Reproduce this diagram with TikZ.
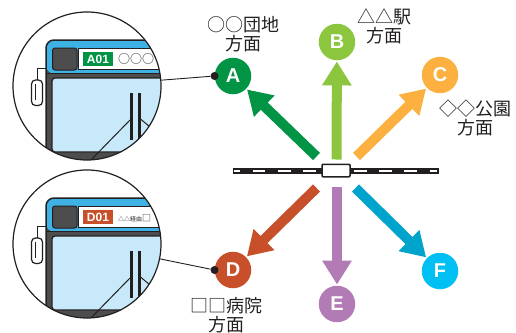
\documentclass[tikz,border=0pt]{standalone}
\usepackage{fontspec}
\usepackage{tikz}
\usetikzlibrary{arrows.meta, positioning, calc}
\newfontfamily\jpfont{Noto Sans CJK JP}
\newfontfamily\stopfont{Liberation Sans}
\definecolor{RouteA}{HTML}{009444}
\definecolor{RouteB}{HTML}{8CC63F}
\definecolor{RouteC}{HTML}{FBB040}
\definecolor{RouteD}{HTML}{C7502A}
\definecolor{RouteE}{HTML}{B27BB6}
\definecolor{RouteF}{HTML}{00BFF3}
\definecolor{RouteFArrow}{HTML}{00A3CC}
\definecolor{InkGray}{HTML}{231F20}
\definecolor{BodyGray}{HTML}{4D4D4D}
\definecolor{SignBlue}{HTML}{3FB2E5}
\definecolor{GlassBlue}{HTML}{C8E9F9}

\begin{document}
\begin{tikzpicture}[x=1pt, y=-1pt,
    stopmark/.style={circle, fill=#1, minimum size=36.5pt, inner sep=0pt,
                     text=white, font=\stopfont\bfseries\fontsize{20}{20}\selectfont},
    route/.style={#1, line width=10pt, -{Triangle[length=24pt, width=28pt]}, shorten >=1pt},
    dirlabel/.style={text=InkGray, align=center, inner sep=0pt,
                     font=\jpfont\fontsize{18}{19}\selectfont},
    lens/.style={circle, draw=InkGray, line width=1.2pt, minimum size=148pt, inner sep=0pt},
    dotmark/.style={circle, fill=InkGray, minimum size=8pt, inner sep=0pt},
    station/.style={draw=InkGray, fill=white, line width=1.5pt, minimum width=28pt,
                    minimum height=12.5pt, inner sep=0pt, rounded corners=1pt}]
    \useasboundingbox (0,0) rectangle (516,332);

    % Two close-ups of the bus front with its destination sign
    \foreach \dy/\code/\stopname/\dest in {0/A01/A/{\fontsize{12}{12}\selectfont ○○○},
        158/D01/D/{\fontsize{6}{6}\selectfont △△経由\fontsize{9}{9}\selectfont □}} {
        \begin{scope}[shift={(0,\dy)}]
            \begin{scope}
                \clip (87,86) circle (74);
                \fill[BodyGray, rounded corners=8pt] (46,180) -- (46,40) -- (180,40) -- (180,180) -- cycle;
                \fill[SignBlue, rounded corners=8pt] (46,73.5) -- (46,40) -- (180,40) -- (180,73.5) -- cycle;
                \draw[InkGray, line width=1.3pt] (46,73.5) -- (180,73.5);
                \draw[InkGray, fill=BodyGray, line width=1pt, rounded corners=2.5pt] (52.5,48) rectangle (77,70);
                \draw[InkGray, fill=white, line width=1pt] (78,48.5) rectangle (180,69);
                \node[fill=Route\stopname, text=white, minimum width=30pt, minimum height=14pt,
                      inner sep=0pt, font=\stopfont\bfseries\fontsize{12}{12}\selectfont]
                      (code\stopname) at (98,59) {\code};
                \node[anchor=base west, inner sep=0pt, text=InkGray, font=\jpfont]
                      (dest\stopname) at (118,63.5) {\dest};
                \draw[InkGray, fill=GlassBlue, line width=1.3pt, rounded corners=3pt]
                    (52,152) -- (52,78) -- (180,78) -- (180,152) -- cycle;
                \draw[InkGray, line width=1.5pt, rounded corners=8pt] (46,180) -- (46,40) -- (180,40) -- (180,180);
                % mirror
                \draw[InkGray, line width=1pt] (46,68.5) -- (37,68.5) -- (37,80);
                \draw[InkGray, fill=white, line width=1.2pt, rounded corners=4pt] (31.5,80) rectangle (42.5,105.5);
                \draw[InkGray, line width=0.8pt] (35,84) -- (35,100);
                % wipers
                \draw[InkGray, line width=3pt] (131.5,93) -- (131.5,140) (139,93) -- (139,140);
                \draw[InkGray, line width=1pt] (91,160) -- (130,120) (140.5,119) -- (150,127);
            \end{scope}
            \node[lens] (lens\stopname) at (87,86) {};
        \end{scope}
    }

    % Track and the bus stop
    \draw[InkGray, line width=6pt] (232.5,171) -- (438.5,171);
    \draw[white, line width=2.5pt, dash pattern=on 12.7pt off 12.6pt, dash phase=6.7pt] (234,171) -- (437,171);
    \node[station] (stn) at (336,170.5) {};

    % Route stops
    \foreach \name/\x/\y in {A/233/76, B/337/42, C/440/75, D/233/270, E/337/304, F/440/271}
        \node[stopmark=Route\name] (\name) at (\x,\y) {\name};

    % Arrows leaving the stop
    \coordinate (tA) at (316.5,156.5);
    \coordinate (tB) at (336.5,159.5);
    \coordinate (tC) at (356.5,156.5);
    \coordinate (tD) at (316.5,188);
    \coordinate (tE) at (337,187);
    \coordinate (tF) at (355.5,188);
    \foreach \name/\col in {A/RouteA, B/RouteB, C/RouteC, D/RouteD, E/RouteE, F/RouteFArrow}
        \draw[route=\col] (t\name) -- (\name);

    % Leaders from the close-ups
    \node[dotmark] (pA) at (A.west) {};
    \node[dotmark] (pD) at (D.west) {};
    \draw[InkGray, line width=0.9pt] (lensA) -- (pA);
    \draw[InkGray, line width=0.9pt] (lensD) -- (pD);

    % Destinations
    \node[dirlabel] (lA) at (243,34) {○○団地\\方面};
    \node[dirlabel] (lB) at (384,26) {△△駅\\方面};
    \node[dirlabel] (lC) at (475,117.5) {◇◇公園\\方面};
    \node[dirlabel] (lD) at (226,315) {□□病院\\方面};
\end{tikzpicture}
\end{document}
